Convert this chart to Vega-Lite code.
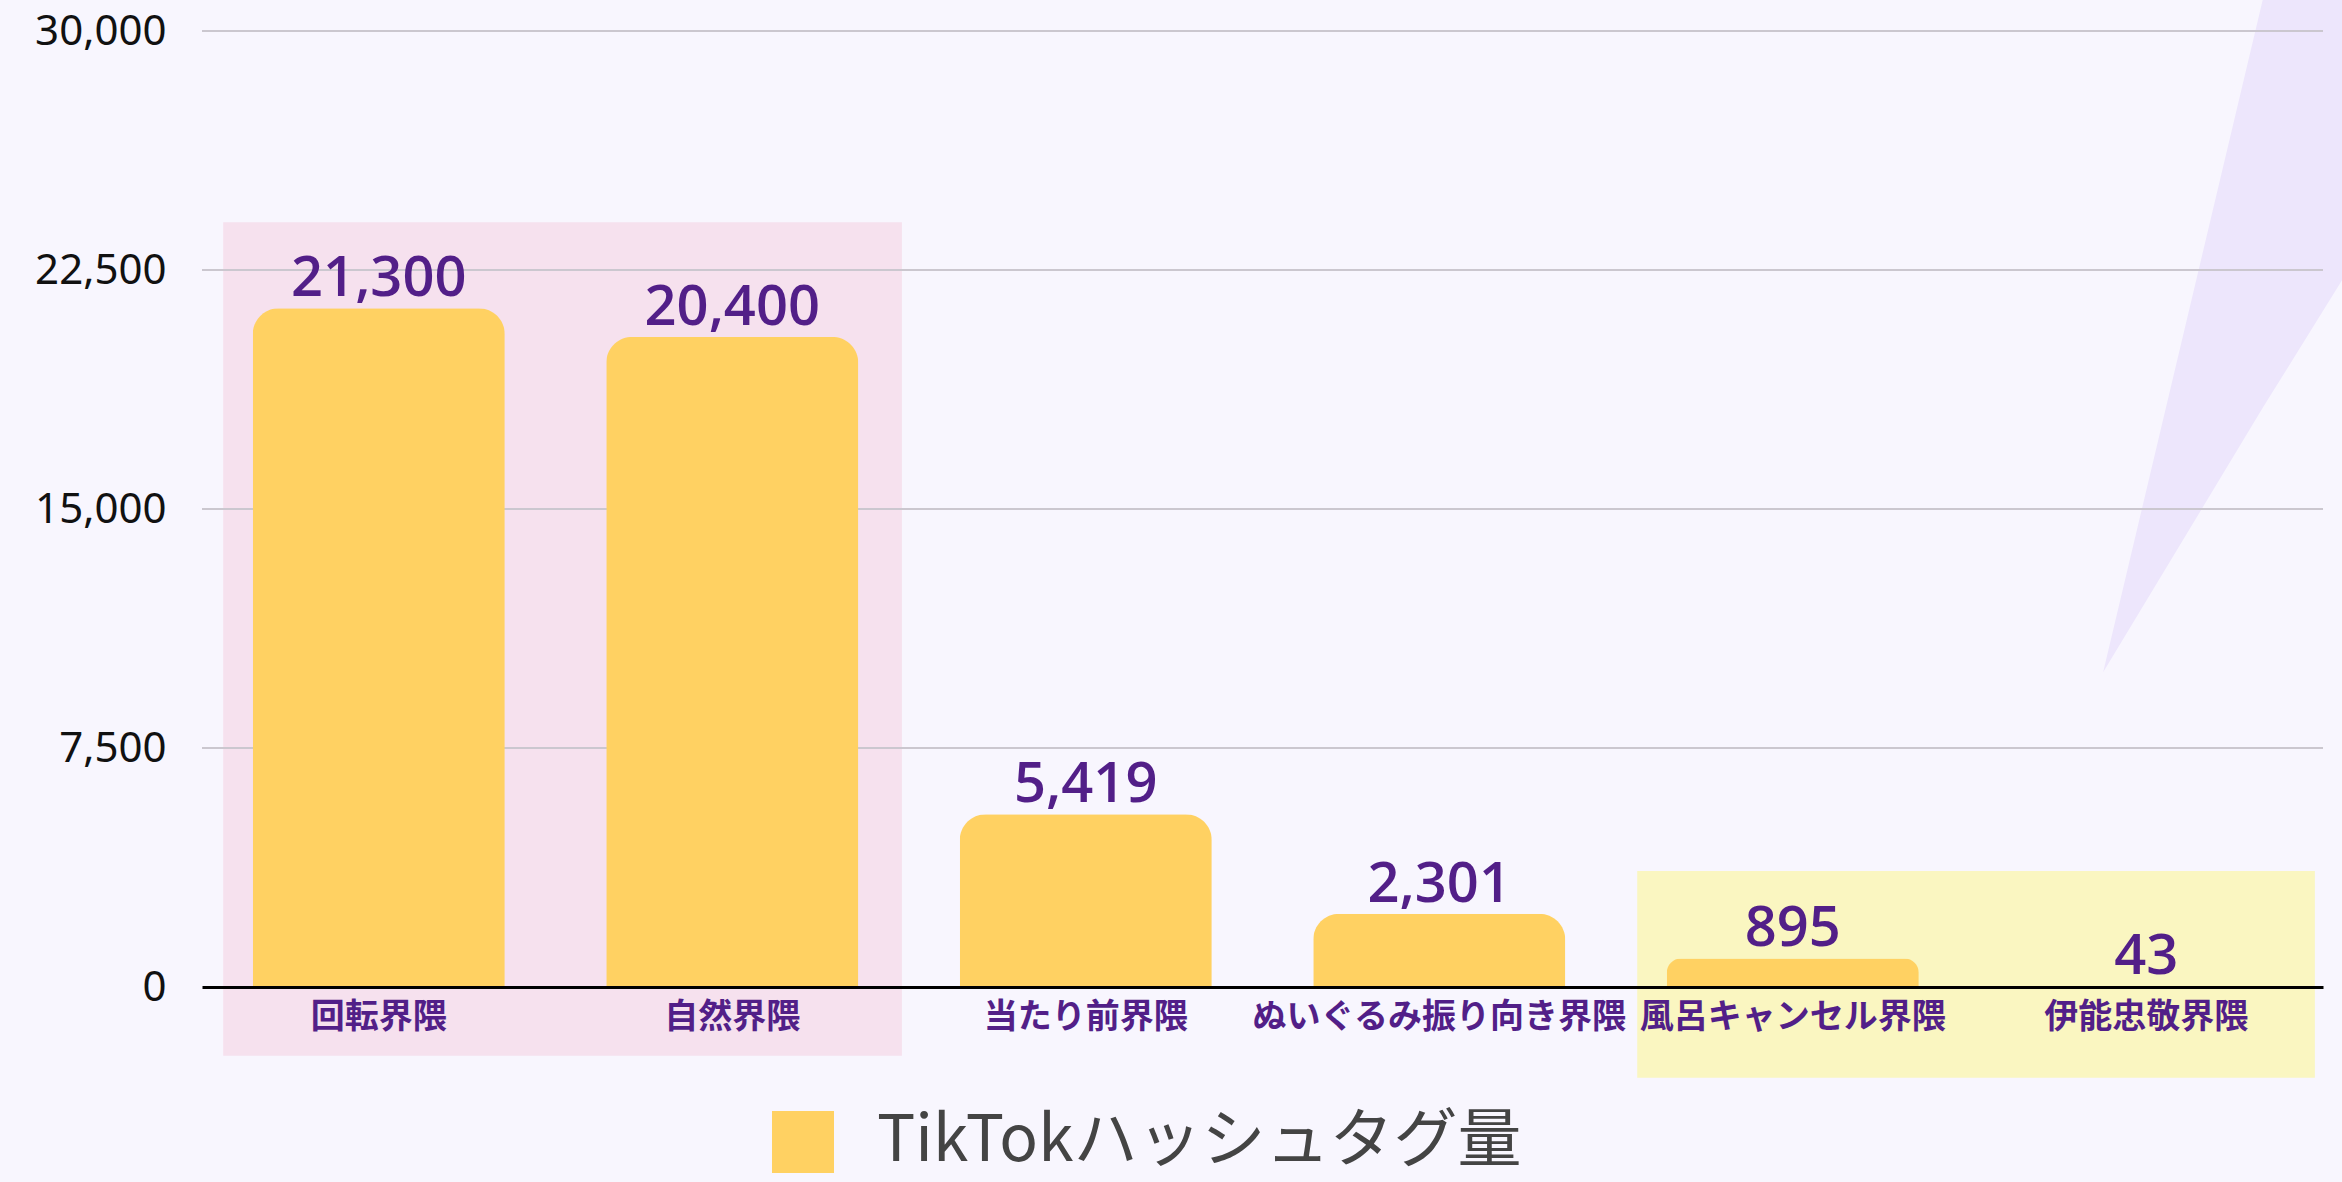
{
  "$schema": "https://vega.github.io/schema/vega-lite/v6.json",
  "width": 2121,
  "height": 956,
  "autosize": {"type": "none"},
  "padding": {"left": 202, "top": 31, "right": 19, "bottom": 195},
  "background": "#F8F6FE",
  "config": {"view": {"stroke": null}},
  "datasets": {
    "bars": [
      {"cat": "回転界隈", "value": 21300},
      {"cat": "自然界隈", "value": 20400},
      {"cat": "当たり前界隈", "value": 5419},
      {"cat": "ぬいぐるみ振り向き界隈", "value": 2301},
      {"cat": "風呂キャンセル界隈", "value": 895},
      {"cat": "伊能忠敬界隈", "value": 43}
    ],
    "grid": [{"g": 7500}, {"g": 15000}, {"g": 22500}, {"g": 30000}],
    "pink": [{"x0": 0.06, "x1": 1.98, "top": 24000, "bottom": -2160}],
    "yellow": [{"x0": 4.06, "x1": 5.977, "top": 3640, "bottom": -2850}],
    "deco": [
      {"u": 5.378, "top": 9875, "bottom": 9875},
      {"u": 5.83, "top": 31000, "bottom": 18182},
      {"u": 6.06, "top": 31000, "bottom": 22288}
    ]
  },
  "resolve": {"scale": {"x": "independent"}},
  "layer": [
    {
      "data": {"name": "deco"},
      "mark": {"type": "area", "color": "#EDE6FC", "opacity": 1},
      "encoding": {
        "x": {"field": "u", "type": "quantitative", "scale": {"domain": [0, 6], "nice": false, "zero": false}, "axis": null},
        "y": {"field": "top", "type": "quantitative", "scale": {"domain": [0, 30000], "nice": false},
          "axis": {"values": [0, 7500, 15000, 22500, 30000], "format": ",d", "grid": false, "domain": false, "ticks": false, "title": null, "labelFont": "Noto Sans", "labelFontSize": 42, "labelColor": "#111111", "labelPadding": 36}},
        "y2": {"field": "bottom"}
      }
    },
    {
      "data": {"name": "pink"},
      "mark": {"type": "rect", "color": "#F6E1EE"},
      "encoding": {
        "x": {"field": "x0", "type": "quantitative", "scale": {"domain": [0, 6], "nice": false, "zero": false}, "axis": null},
        "x2": {"field": "x1"},
        "y": {"field": "top", "type": "quantitative", "scale": {"domain": [0, 30000], "nice": false},
          "axis": {"values": [0, 7500, 15000, 22500, 30000], "format": ",d", "grid": false, "domain": false, "ticks": false, "title": null, "labelFont": "Noto Sans", "labelFontSize": 42, "labelColor": "#111111", "labelPadding": 36}},
        "y2": {"field": "bottom"}
      }
    },
    {
      "data": {"name": "yellow"},
      "mark": {"type": "rect", "color": "#FAF6C1"},
      "encoding": {
        "x": {"field": "x0", "type": "quantitative", "scale": {"domain": [0, 6], "nice": false, "zero": false}, "axis": null},
        "x2": {"field": "x1"},
        "y": {"field": "top", "type": "quantitative", "scale": {"domain": [0, 30000], "nice": false},
          "axis": {"values": [0, 7500, 15000, 22500, 30000], "format": ",d", "grid": false, "domain": false, "ticks": false, "title": null, "labelFont": "Noto Sans", "labelFontSize": 42, "labelColor": "#111111", "labelPadding": 36}},
        "y2": {"field": "bottom"}
      }
    },
    {
      "data": {"name": "grid"},
      "mark": {"type": "rule", "color": "#CBC7CF", "strokeWidth": 2},
      "encoding": {
        "y": {"field": "g", "type": "quantitative", "scale": {"domain": [0, 30000], "nice": false},
          "axis": {"values": [0, 7500, 15000, 22500, 30000], "format": ",d", "grid": false, "domain": false, "ticks": false, "title": null, "labelFont": "Noto Sans", "labelFontSize": 42, "labelColor": "#111111", "labelPadding": 36}}
      }
    },
    {
      "data": {"name": "bars"},
      "mark": {"type": "bar", "color": "#FFD162", "cornerRadiusTopLeft": 26, "cornerRadiusTopRight": 26},
      "encoding": {
        "x": {
          "field": "cat", "type": "nominal", "sort": null,
          "scale": {"paddingInner": 0.287, "paddingOuter": 0.1435},
          "axis": {
            "title": null, "labelAngle": 0, "labelFont": "Noto Sans CJK JP", "labelFontSize": 34,
            "labelFontWeight": "bold", "labelColor": "#521F88", "labelPadding": 13, "ticks": false,
            "domainColor": "#000000", "domainWidth": 3, "zindex": 1, "grid": false,
            "labelLimit": 1000, "labelOverlap": false, "labelFlush": false
          }
        },
        "y": {"field": "value", "type": "quantitative", "scale": {"domain": [0, 30000], "nice": false},
          "axis": {"values": [0, 7500, 15000, 22500, 30000], "format": ",d", "grid": false, "domain": false, "ticks": false, "title": null, "labelFont": "Noto Sans", "labelFontSize": 42, "labelColor": "#111111", "labelPadding": 36}},
        "color": {
          "datum": "TikTokハッシュタグ量",
          "scale": {"range": ["#FFD162"]},
          "legend": {
            "orient": "none", "legendX": 569, "legendY": 1079, "title": null, "symbolType": "square",
            "symbolSize": 3844, "symbolStrokeWidth": 0, "symbolOpacity": 1, "labelFont": "Noto Sans CJK JP",
            "labelFontSize": 64, "labelColor": "#444444", "labelOffset": 42, "padding": 0, "labelLimit": 2000
          }
        }
      }
    },
    {
      "data": {"name": "bars"},
      "mark": {"type": "text", "font": "Open Sans", "fontSize": 56, "fontWeight": 600, "color": "#521F88", "baseline": "alphabetic", "dy": -12},
      "encoding": {
        "x": {"field": "cat", "type": "nominal", "sort": null, "scale": {"paddingInner": 0.287, "paddingOuter": 0.1435}, "axis": null},
        "y": {"field": "value", "type": "quantitative", "scale": {"domain": [0, 30000], "nice": false},
          "axis": {"values": [0, 7500, 15000, 22500, 30000], "format": ",d", "grid": false, "domain": false, "ticks": false, "title": null, "labelFont": "Noto Sans", "labelFontSize": 42, "labelColor": "#111111", "labelPadding": 36}},
        "text": {"field": "value", "type": "quantitative", "format": ","}
      }
    }
  ]
}
